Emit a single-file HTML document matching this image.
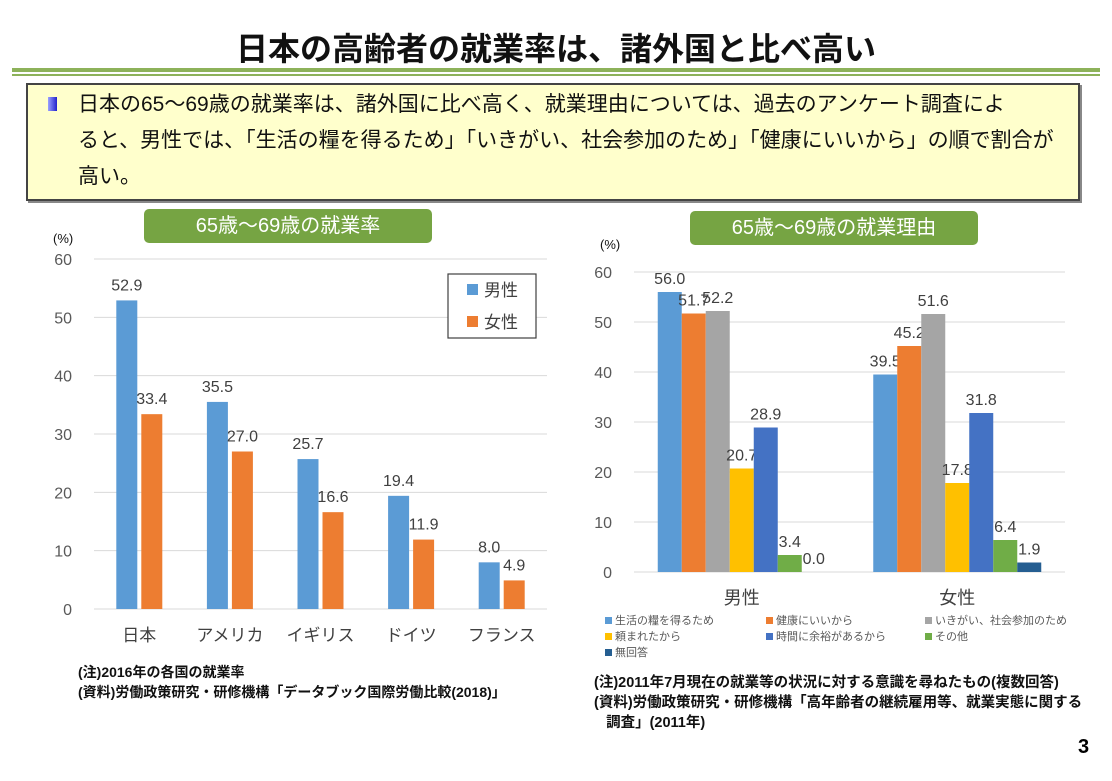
<!DOCTYPE html>
<html><head><meta charset="utf-8">
<style>
body{margin:0;width:1112px;height:781px;background:#fff;overflow:hidden;position:relative;font-family:"Liberation Sans","Noto Sans CJK JP",sans-serif;}
.abs{position:absolute;}
#title{left:0;width:1112px;top:24px;text-align:center;font-size:32px;font-weight:bold;color:#111;}
.pill{background:#76A443;color:#fff;border-radius:5px;text-align:center;font-size:20px;line-height:34px;height:34px;}
.note{font-size:14px;color:#111;line-height:20px;font-weight:bold;white-space:nowrap;}
</style></head><body>
<div id="title" class="abs">日本の高齢者の就業率は、諸外国と比べ高い</div>
<div class="abs" style="left:12px;top:68px;width:1088px;height:4px;background:#8DB25A"></div>
<div class="abs" style="left:12px;top:74px;width:1088px;height:2px;background:#8DB25A"></div>
<div class="abs" style="left:26px;top:83px;width:1050px;height:114px;background:#FFFFCC;border:2px solid #444;box-shadow:2px 2px 0 #888"></div>
<div class="abs" style="left:48px;top:97px;width:9px;height:14px;background:linear-gradient(90deg,#9aa0ff,#2222cc)"></div>
<div class="abs" style="left:78px;top:87px;width:1000px;font-size:21px;line-height:36px;color:#111;white-space:nowrap">日本の65～69歳の就業率は、諸外国に比べ高く、就業理由については、過去のアンケート調査によ<br>ると、男性では、「生活の糧を得るため」「いきがい、社会参加のため」「健康にいいから」の順で割合が<br>高い。</div>
<div class="abs pill" style="left:144px;top:209px;width:288px">65歳～69歳の就業率</div>
<div class="abs pill" style="left:690px;top:211px;width:288px">65歳～69歳の就業理由</div>
<svg class="abs" style="left:0;top:0" width="1112" height="781" id="svg"></svg>
<div class="abs note" style="left:78px;top:662px">(注)2016年の各国の就業率<br>(資料)労働政策研究・研修機構「データブック国際労働比較(2018)」</div>
<div class="abs note" style="left:594px;top:673px;font-size:14.5px">(注)2011年7月現在の就業等の状況に対する意識を尋ねたもの(複数回答)<br>(資料)労働政策研究・研修機構「高年齢者の継続雇用等、就業実態に関する<br>&nbsp;&nbsp;&nbsp;調査」(2011年)</div>
<div class="abs" style="left:1078px;top:736px;font-size:20px;font-weight:bold">3</div>
<script>
const leftCats=["日本","アメリカ","イギリス","ドイツ","フランス"];
const leftMale=[52.9,35.5,25.7,19.4,8.0];
const leftFemale=[33.4,27.0,16.6,11.9,4.9];
const leftTicks=[0,10,20,30,40,50,60];
const rightCats=["男性","女性"];
const rightSeriesNames=["生活の糧を得るため","健康にいいから","いきがい、社会参加のため","頼まれたから","時間に余裕があるから","その他","無回答"];
const rightMale=[56.0,51.7,52.2,20.7,28.9,3.4,0.0];
const rightFemale=[39.5,45.2,51.6,17.8,31.8,6.4,1.9];
const rightTicks=[0,10,20,30,40,50,60];
const NS="http://www.w3.org/2000/svg";
const svg=document.getElementById('svg');
function mk(tag,attrs,txt){const e=document.createElementNS(NS,tag);for(const k in attrs)e.setAttribute(k,attrs[k]);if(txt!=null)e.textContent=txt;svg.appendChild(e);return e;}
const F='"Liberation Sans","Noto Sans CJK JP",sans-serif';
const ly=v=>609-v*(350/60);
const lx0=94,lx1=547,lw=(lx1-lx0)/leftCats.length;
leftTicks.forEach(t=>{
 let g=mk('line',{x1:lx0,x2:lx1,y1:ly(t),y2:ly(t),stroke:'#d9d9d9','stroke-width':1});
 
 let tx=mk('text',{x:72,y:ly(t)+6,'text-anchor':'end','font-size':16,fill:'#595959','font-family':F},String(t));
 
});
let lp=mk('text',{x:53,y:243,'font-size':13,fill:'#111','font-family':F},'(%)');

leftCats.forEach((c,i)=>{
 const cx=lx0+lw*(i+0.5);
 [[leftMale[i],'#5B9BD5',-23,'male'],[leftFemale[i],'#ED7D31',2,'female']].forEach(([v,col,off,n])=>{
  let r=mk('rect',{x:cx+off,y:ly(v),width:21,height:ly(0)-ly(v),fill:col});
  
  let l=mk('text',{x:cx+off+10.5,y:ly(v)-10,'text-anchor':'middle','font-size':16,fill:'#404040','font-family':F},v.toFixed(1));
  
 });
 let ct=mk('text',{x:cx,y:641,'text-anchor':'middle','font-size':17,fill:'#404040','font-family':F},c);
 
});
let lb=mk('rect',{x:448,y:274,width:88,height:64,fill:'#fff',stroke:'#404040','stroke-width':1.2});

[['男性','#5B9BD5',290],['女性','#ED7D31',322]].forEach(([n,c,y])=>{
 let s=mk('rect',{x:467,y:y-6,width:11,height:11,fill:c});
 
 let t=mk('text',{x:484,y:y+6,'font-size':17,fill:'#404040','font-family':F},n);
 
});
const ry=v=>572-v*(300/60);
const rx0=634,rx1=1065,rw=(rx1-rx0)/rightCats.length,bw=24;
const cols=['#5B9BD5','#ED7D31','#A5A5A5','#FFC000','#4472C4','#70AD47','#255E91'];
rightTicks.forEach(t=>{
 let g=mk('line',{x1:rx0,x2:rx1,y1:ry(t),y2:ry(t),stroke:'#d9d9d9','stroke-width':1});
 
 let tx=mk('text',{x:612,y:ry(t)+6,'text-anchor':'end','font-size':16,fill:'#595959','font-family':F},String(t));
 
});
let rp=mk('text',{x:600,y:249,'font-size':13,fill:'#111','font-family':F},'(%)');

[rightMale,rightFemale].forEach((arr,gi)=>{
 const cx=rx0+rw*(gi+0.5);
 const start=cx-bw*arr.length/2;
 arr.forEach((v,j)=>{
  const x=start+j*bw;
  let r=mk('rect',{x:x,y:ry(v),width:bw,height:ry(0)-ry(v),fill:cols[j]});
  
  let l=mk('text',{x:x+bw/2,y:ry(v)-8,'text-anchor':'middle','font-size':16,fill:'#404040','font-family':F},v.toFixed(1));
  
 });
 let ct=mk('text',{x:cx,y:604,'text-anchor':'middle','font-size':18,fill:'#404040','font-family':F},rightCats[gi]);
 
});
rightSeriesNames.forEach((n,j)=>{
 const x=[605,766,925][j%3],y=624+Math.floor(j/3)*16;
 let s=mk('rect',{x:x,y:y-7,width:7,height:7,fill:cols[j]});
 
 let t=mk('text',{x:x+10,y:y,'font-size':11,fill:'#595959','font-family':F},n);
 
});
</script>
</body></html>
